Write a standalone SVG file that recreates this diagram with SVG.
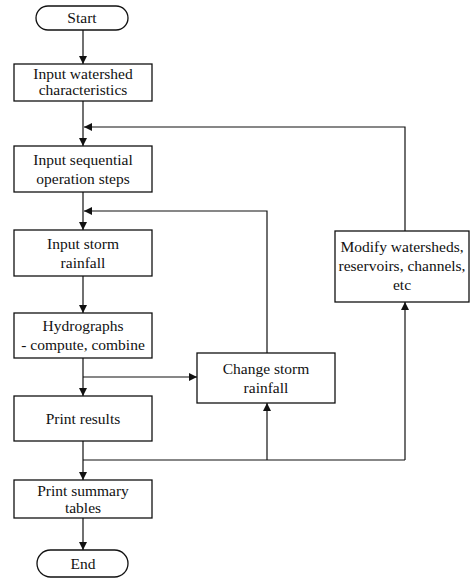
<svg xmlns="http://www.w3.org/2000/svg" width="470" height="579" viewBox="0 0 470 579">
<defs>
<marker id="ah" viewBox="0 0 10 10" refX="10" refY="5" markerWidth="8" markerHeight="8" markerUnits="userSpaceOnUse" orient="auto">
<path d="M0,0 L10,5 L0,10 z" fill="#111"/>
</marker>
<style>
.box{fill:#fff;stroke:#111;stroke-width:1.3}
.t{font-size:15.5px;fill:#111;text-anchor:middle}
.c{fill:none;stroke:#111;stroke-width:1.2}
</style>
</defs>
<rect width="470" height="579" fill="#fff"/>
<g id="connectors">
<path class="c" d="M83,30 V64" marker-end="url(#ah)"/>
<path class="c" d="M83,101 V146" marker-end="url(#ah)"/>
<path class="c" d="M83,192 V230" marker-end="url(#ah)"/>
<path class="c" d="M83,276 V313" marker-end="url(#ah)"/>
<path class="c" d="M83,358 V396" marker-end="url(#ah)"/>
<path class="c" d="M83,377 H197" marker-end="url(#ah)"/>
<path class="c" d="M83,441 V480" marker-end="url(#ah)"/>
<path class="c" d="M83,460 H405"/>
<path class="c" d="M83,518 V550" marker-end="url(#ah)"/>
<path class="c" d="M267,353 V211 H84" marker-end="url(#ah)"/>
<path class="c" d="M405,231 V127 H84" marker-end="url(#ah)"/>
<path class="c" d="M267,460 V403" marker-end="url(#ah)"/>
<path class="c" d="M405,460 V302" marker-end="url(#ah)"/>
</g>
<g font-family="Liberation Serif, DejaVu Serif, serif">
<g id="start">
<rect class="box" x="36" y="6" width="92" height="24" rx="12"/>
<text class="t" x="82" y="23">Start</text>
</g>
<g id="input-watershed">
<rect class="box" x="14" y="64" width="138" height="37"/>
<text class="t" x="83" y="79">Input watershed</text>
<text class="t" x="83" y="95">characteristics</text>
</g>
<g id="input-sequential">
<rect class="box" x="14" y="146" width="138" height="46"/>
<text class="t" x="83" y="165">Input sequential</text>
<text class="t" x="83" y="184">operation steps</text>
</g>
<g id="input-storm">
<rect class="box" x="14" y="230" width="138" height="46"/>
<text class="t" x="83" y="249">Input storm</text>
<text class="t" x="83" y="268">rainfall</text>
</g>
<g id="hydrographs">
<rect class="box" x="14" y="313" width="138" height="45"/>
<text class="t" x="83" y="331">Hydrographs</text>
<text class="t" x="83" y="350">- compute, combine</text>
</g>
<g id="print-results">
<rect class="box" x="14" y="396" width="138" height="45"/>
<text class="t" x="83" y="424">Print results</text>
</g>
<g id="print-summary">
<rect class="box" x="14" y="480" width="138" height="38"/>
<text class="t" x="83" y="496">Print summary</text>
<text class="t" x="83" y="513">tables</text>
</g>
<g id="end">
<rect class="box" x="37" y="550" width="91" height="27" rx="13.5"/>
<text class="t" x="83" y="569">End</text>
</g>
<g id="change-storm">
<rect class="box" x="197" y="353" width="138" height="50"/>
<text class="t" x="266" y="374">Change storm</text>
<text class="t" x="266" y="393">rainfall</text>
</g>
<g id="modify">
<rect class="box" x="335" y="231" width="134" height="71"/>
<text class="t" x="402" y="252">Modify watersheds,</text>
<text class="t" x="402" y="271">reservoirs, channels,</text>
<text class="t" x="402" y="290">etc</text>
</g>
</g>
</svg>
